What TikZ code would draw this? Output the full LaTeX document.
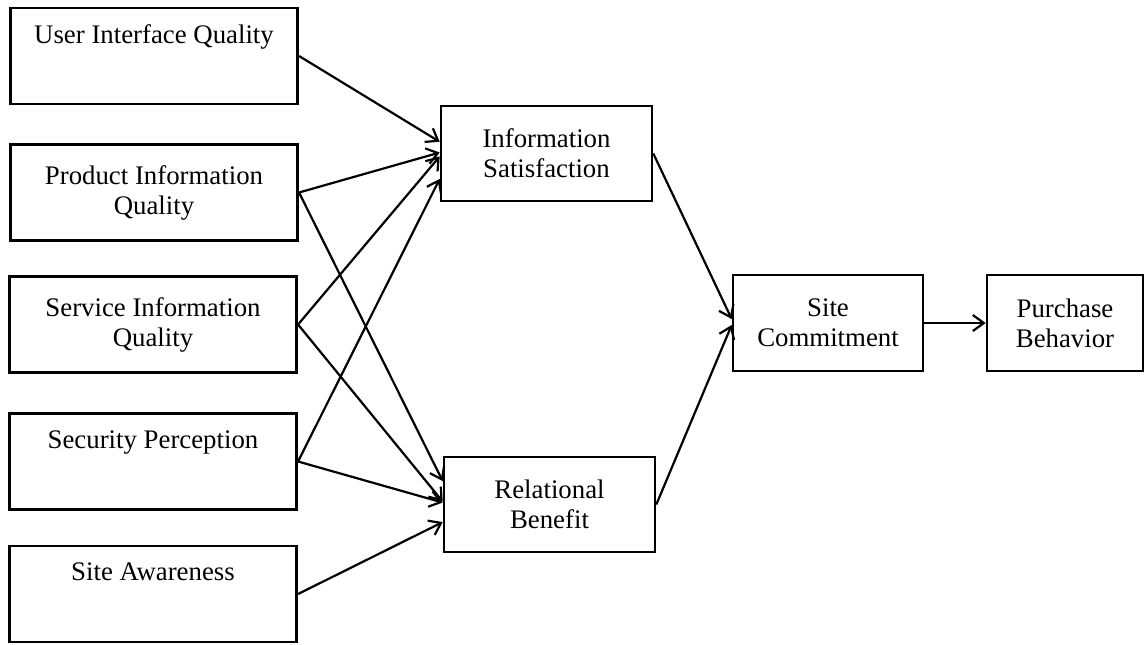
\documentclass[tikz,border=0pt]{standalone}
\usepackage{fontspec}
\setmainfont{Liberation Serif}
\usetikzlibrary{arrows.meta,calc}
\begin{document}
\begin{tikzpicture}[x=0.5pt,y=-0.5pt,
  box/.style={draw,line width=1.3pt,rectangle,inner sep=0pt,align=center,
    font=\fontsize{13.4}{15}\selectfont},
  leftbox/.style={box,minimum width=143.75pt,minimum height=48pt},
  midbox/.style={box,minimum width=105.5pt,minimum height=47.5pt},
  link/.style={line width=1.1pt,-{Straight Barb[length=5.5pt,width=8pt,line width=1.1pt]}}]
\useasboundingbox (0,0) rectangle (1144,644);

% antecedents
\node[leftbox] (uiq) at (154,56)    {User Interface Quality\\[2.5pt]\strut};
\node[leftbox] (piq) at (154,192.5) {Product Information\\Quality};
\node[leftbox] (siq) at (153,324.5) {Service Information\\Quality};
\node[leftbox] (sp)  at (153,461.5) {Security Perception\\[2.5pt]\strut};
\node[leftbox] (sa)  at (153,594)   {Site Awareness\\[2.5pt]\strut};

% mediators
\node[midbox] (is) at (546.5,153.5) {Information\\Satisfaction};
\node[midbox] (rb) at (549.5,504.5) {Relational\\Benefit};

% outcomes
\node[box,minimum width=95pt,minimum height=48pt] (sc) at (828,323) {Site\\Commitment};
\node[box,minimum width=78pt,minimum height=48pt] (pb) at (1065,323) {Purchase\\Behavior};

% paths into Information Satisfaction
\draw[link] (uiq.east) -- ($(is.north west)!0.38!(is.south west)$);
\draw[link] (piq.east) -- ($(is.north west)!0.49!(is.south west)$);
\draw[link] (siq.east) -- ($(is.north west)!0.53!(is.south west)$);
\draw[link] (sp.east)  -- ($(is.north west)!0.76!(is.south west)$);

% paths into Relational Benefit
\draw[link] (piq.east) -- ($(rb.north west)!0.26!(rb.south west)$);
\draw[link] (siq.east) -- ($(rb.north west)!0.47!(rb.south west)$);
\draw[link] (sp.east)  -- ($(rb.north west)!0.48!(rb.south west)$);
\draw[link] (sa.east)  -- ($(rb.north west)!0.68!(rb.south west)$);

% paths to the outcomes
\draw[link] (is.east) -- ($(sc.north west)!0.46!(sc.south west)$);
\draw[link] (rb.east) -- ($(sc.north west)!0.52!(sc.south west)$);
\draw[link] (sc.east) -- (pb.west);
\end{tikzpicture}
\end{document}
